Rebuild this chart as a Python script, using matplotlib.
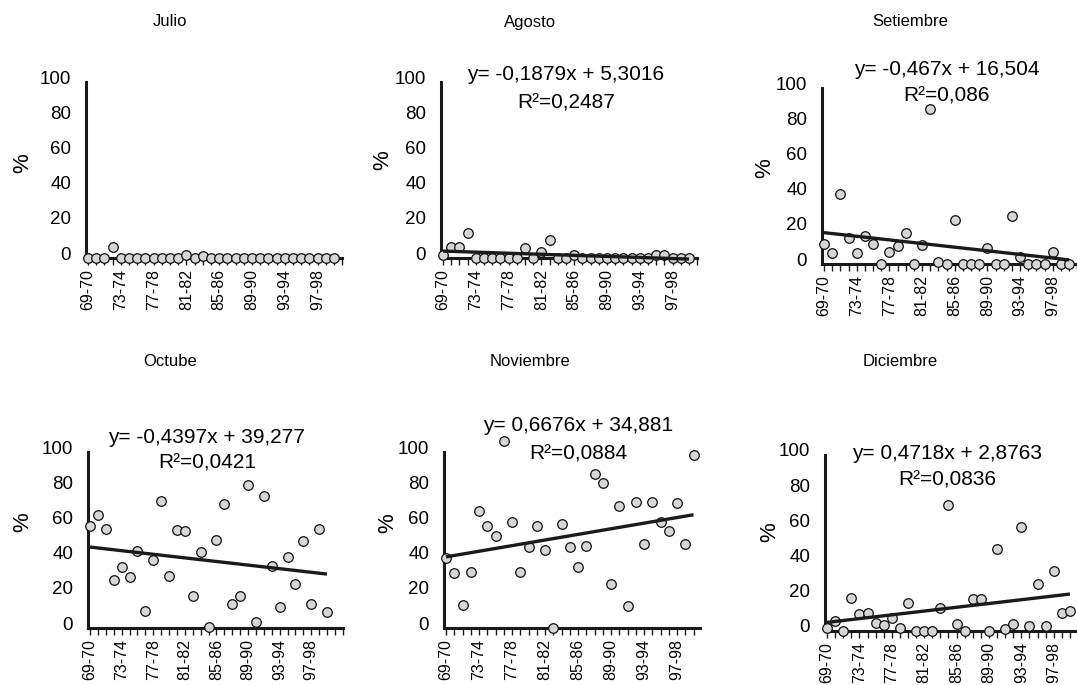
import numpy as np
import matplotlib
matplotlib.use("Agg")
import matplotlib.pyplot as plt
import matplotlib.transforms as mtransforms

plt.rcParams['font.family'] = ['Liberation Sans', 'DejaVu Sans']

# Temporadas (31) y etiquetas visibles cada 4
temporadas = ['69-70', '70-71', '71-72', '72-73', '73-74', '74-75', '75-76', '76-77',
              '77-78', '78-79', '79-80', '80-81', '81-82', '82-83', '83-84', '84-85',
              '85-86', '86-87', '87-88', '88-89', '89-90', '90-91', '91-92', '92-93',
              '93-94', '94-95', '95-96', '96-97', '97-98', '98-99', '99-00']
etiquetas = ['69-70', '73-74', '77-78', '81-82', '85-86', '89-90', '93-94', '97-98']

# Valores (%)
julio = [0, 0, 0, 6.5, 0, 0, 0, 0, 0, 0, 0, 0, 1.7, 0, 1, 0,
         0, 0, 0, 0, 0, 0, 0, 0, 0, 0, 0, 0, 0, 0, 0]
agosto = [1.5, 6, 6, 14, 0, 0, 0, 0, 0, 0, 5.5, 0, 3.5, 10.5, 0, 0,
          1.5, 0, 0, 0, 0, 0, 0, 0, 0, 0, 1.5, 1.5, 0, 0, 0]
setiembre = [11.5, 6, 40, 15, 6, 16, 11.5, 0, 7, 10, 17.5, 0, 11, 88, 1, 0,
             25, 0, 0, 0, 9, 0, 0, 27, 4, 0, 0, 0, 7, 0, 0]
octubre = [57.8, 64, 56.4, 27, 34.7, 29, 43.8, 9.7, 38.8, 72, 29.5, 55.9, 55, 18, 43.2, 0.5,
           49.8, 70.6, 13.8, 18.2, 81, 3.4, 74.8, 35.2, 12, 40.3, 25.2, 49.2, 13.4, 56.4, 9]
noviembre = [39.6, 31.1, 12.8, 32, 66.6, 58.1, 52.5, 106, 60, 31.7, 45.8, 57.7, 44.3, 0, 59, 45.8,
             34.5, 46.4, 87.4, 82.6, 25, 69.4, 12.3, 71.7, 47.7, 71.7, 60, 54.9, 71.3, 47.7, 98.3]
diciembre = [1.5, 5.7, 0, 19, 9.4, 10, 4.7, 3.2, 7.5, 1.5, 15.7, 0, 0, 0, 13.2, 71.8,
             3.8, 0, 18, 18, 0, 46.8, 0.9, 3.8, 59, 2.8, 26.5, 2.8, 33.9, 10.4, 11.3]

titulos = ['Julio', 'Agosto', 'Setiembre', 'Octube', 'Noviembre', 'Diciembre']
series = [julio, agosto, setiembre, octubre, noviembre, diciembre]
ecuaciones = [None,
              ('y= -0,1879x + 5,3016', 'R²=0,2487'),
              ('y= -0,467x + 16,504', 'R²=0,086'),
              ('y= -0,4397x + 39,277', 'R²=0,0421'),
              ('y= 0,6676x + 34,881', 'R²=0,0884'),
              ('y= 0,4718x + 2,8763', 'R²=0,0836')]

# Layout en pixeles: (eje y x, px por temporada, eje x y, fin del eje x)
paneles = [(88, 8.2, 258, 31), (443, 8.2, 258, 31), (824, 8.17, 264, 32.5),
           (90, 7.9, 628, 32), (446, 8.25, 628, 30.8), (827, 8.1, 631, 32.5)]
pos_eq = [None, (15, 104, 88), (15, 110.5, 95.5), (14.8, 108.5, 93.7),
          (16, 115, 99), (14.8, 101, 86)]
titulo_xy = [(170, 22), (530, 22), (910, 22), (170, 362), (530, 362), (900, 362)]
pct_xy = [(23, 163), (383, 160), (765, 168), (23, 522), (388, 523), (770, 532)]

W, H = 1077, 685
fig = plt.figure(figsize=(W / 100, H / 100), dpi=100)

x = np.arange(len(temporadas))
pad = 0.2
for i, (y, titulo) in enumerate(zip(series, titulos)):
    x0, s, y0, xend = paneles[i]
    left = x0 - pad * s
    ancho = (xend + pad) * s
    ax = fig.add_axes([left / W, (H - y0) / H, ancho / W, 176 / H])
    ax.set_xlim(-pad, xend)
    ax.set_ylim(0, 100)

    ax.plot(x, y, 'o', ms=6.9, mfc='#d6d6d6', mec='#111111', mew=0.9,
            clip_on=False, zorder=3)

    if ecuaciones[i] is not None:
        m, b = np.polyfit(x, y, 1)
        ax.plot([x[0], x[-1]], [b, m * x[-1] + b], color='#1a1a1a', lw=2.4,
                clip_on=False, zorder=4, solid_capstyle='butt')
        ex, ey1, ey2 = pos_eq[i]
        ax.text(ex, ey1, ecuaciones[i][0], ha='center', va='center', fontsize=15)
        ax.text(ex, ey2, ecuaciones[i][1], ha='center', va='center', fontsize=15)

    for lado in ['top', 'right']:
        ax.spines[lado].set_visible(False)
    for lado in ['left', 'bottom']:
        ax.spines[lado].set_linewidth(2.2)
        ax.spines[lado].set_color('#1a1a1a')
    ax.spines['bottom'].set_zorder(2)

    ticks = np.arange(0, int(np.floor(xend)) + 1)
    nombres = []
    for t in ticks:
        if t < len(temporadas) and temporadas[t] in etiquetas:
            nombres.append(temporadas[t])
        else:
            nombres.append('')
    ax.set_xticks(ticks)
    ax.set_xticklabels(nombres, rotation=90, fontsize=11.5)
    ax.tick_params(axis='x', length=5, width=1, direction='out', pad=3, color='#1a1a1a')

    ax.set_yticks([0, 20, 40, 60, 80, 100])
    ax.tick_params(axis='y', length=0, pad=11, labelsize=13.5)
    desplaza = mtransforms.ScaledTranslation(0, 0.05, fig.dpi_scale_trans)
    for lab in ax.get_yticklabels():
        lab.set_transform(lab.get_transform() + desplaza)
    ax.patch.set_visible(False)

    px, py = pct_xy[i]
    fig.text(px / W, 1 - py / H, '%', rotation=90, fontsize=16,
             ha='center', va='center')

    tx, ty = titulo_xy[i]
    fig.text(tx / W, 1 - ty / H, titulo, ha='center', va='center', fontsize=12)

fig.savefig('out.png', dpi=100)
